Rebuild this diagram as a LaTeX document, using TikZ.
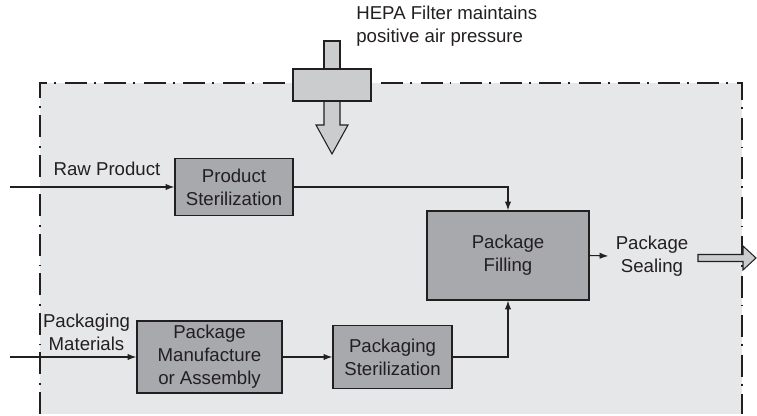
\documentclass[tikz,border=0pt]{standalone}
\usepackage{fontspec}
\setmainfont{Liberation Sans}
\usetikzlibrary{arrows.meta}

\begin{document}
\begin{tikzpicture}[
    font=\fontsize{10.6}{13}\selectfont,
    stepbox/.style={draw=lineColour, fill=boxColour, line width=0.75pt, align=center, inner sep=0pt, text=textColour},
    flow/.style={draw=lineColour, line width=0.6pt, -{Latex[length=5pt,width=3.6pt]}},
    fatArrow/.style={draw=lineColour, fill=ventColour, line width=0.6pt, line join=miter},
    plainText/.style={align=center, inner sep=0pt, text=textColour}
]
    \definecolor{lineColour}{HTML}{231F20}
    \definecolor{textColour}{HTML}{231F20}
    \definecolor{roomColour}{HTML}{E6E7E8}
    \definecolor{boxColour}{HTML}{A7A9AC}
    \definecolor{ventColour}{HTML}{CBCCCE}

    \useasboundingbox (0,0) rectangle (15.14,8.32);

    % Clean room area with dash-dot boundary
    \fill[roomColour] (0.8,0.04) rectangle (14.84,6.66);
    \draw[lineColour, line width=0.8pt, dash pattern=on 12.5pt off 4pt on 1pt off 5pt]
        (0.8,0.04) -- (0.8,6.66) -- (14.84,6.66) -- (14.84,0.04);

    % HEPA filter on the roof
    \draw[fatArrow] (6.48,7.5) rectangle (6.80,6.94);
    \draw[fatArrow] (6.48,6.30) -- (6.48,5.82) -- (6.32,5.82) -- (6.64,5.24)
        -- (6.96,5.82) -- (6.80,5.82) -- (6.80,6.30);
    \node[stepbox, fill=ventColour, minimum width=1.56cm, minimum height=0.64cm] (hepa) at (6.64,6.62) {};
    \node[plainText, anchor=west, align=left] (hepaText) at (7.12,7.8)
        {HEPA Filter maintains\\positive air pressure};

    % Process steps
    \node[stepbox, minimum width=2.36cm, minimum height=1.14cm] (prodSter) at (4.68,4.58) {Product\\Sterilization};
    \node[stepbox, minimum width=3.24cm, minimum height=1.78cm] (pkgFill) at (10.16,3.21) {Package\\Filling};
    \node[stepbox, minimum width=2.90cm, minimum height=1.44cm] (pkgMake) at (4.19,1.18) {Package\\Manufacture\\or Assembly};
    \node[stepbox, minimum width=2.38cm, minimum height=1.26cm] (pkgSter) at (7.85,1.18) {Packaging\\Sterilization};
    \node[plainText, inner xsep=4pt] (pkgSeal) at (13.04,3.2) {Package\\Sealing};

    % Inputs from outside
    \coordinate (rawIn) at (0.2,4.58);
    \coordinate (matIn) at (0.2,1.18);
    \node[plainText] (rawLabel) at (2.14,4.94) {Raw Product};
    \node[plainText] (matLabel) at (1.73,1.68) {Packaging\\Materials};

    % Flow connections
    \draw[flow] (rawIn) -- (prodSter.west);
    \draw[flow] (prodSter.east) -| (pkgFill.north);
    \draw[flow] (matIn) -- (pkgMake.west);
    \draw[flow] (pkgMake.east) -- (pkgSter.west);
    \draw[flow] (pkgSter.east) -| (pkgFill.south);
    \draw[flow] (pkgFill.east) -- (pkgSeal.west);

    % Product leaving the room
    \coordinate (outStart) at (13.96,3.16);
    \draw[fatArrow] (outStart) ++(0,0.07) -- ++(0.9,0) -- ++(0,0.17) -- (15.12,3.16)
        -- (14.86,2.92) -- ++(0,0.17) -- ++(-0.9,0) -- cycle;

\end{tikzpicture}
\end{document}
